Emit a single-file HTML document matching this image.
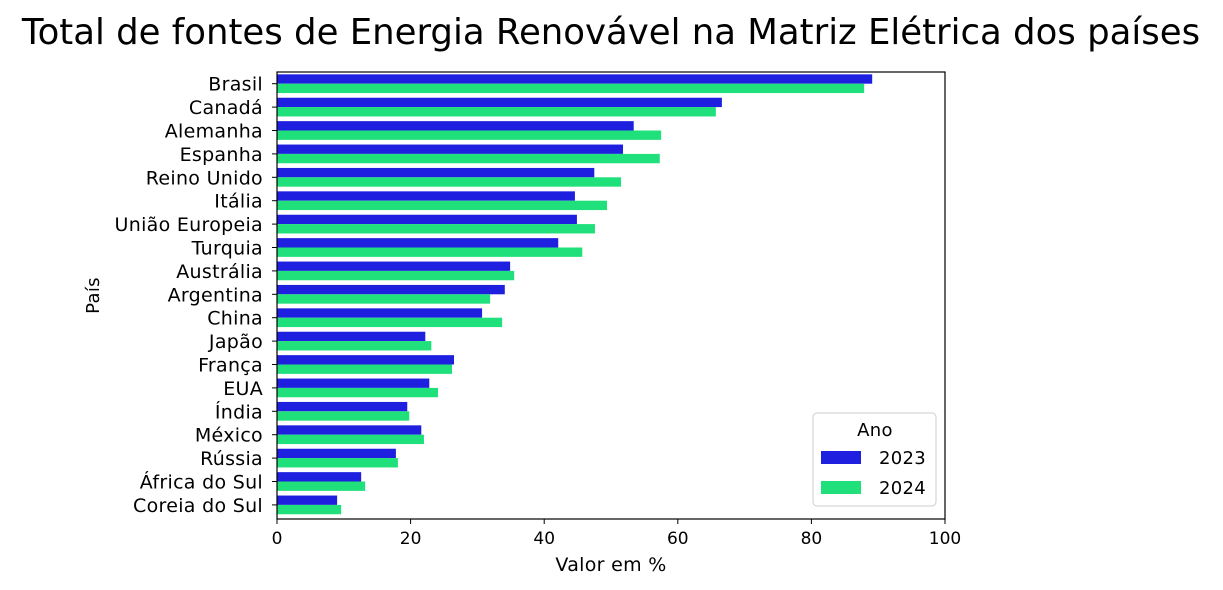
<!DOCTYPE html>
<html><head><meta charset="utf-8"><style>
body{margin:0;background:#fff;}
svg{display:block;font-family:"DejaVu Sans","Liberation Sans",sans-serif;}
.t{letter-spacing:0.3px;}
</style></head><body>
<svg id="chart" width="1223" height="590">
<text x="611" y="44" font-size="35.5" text-anchor="middle">Total de fontes de Energia Renovável na Matriz Elétrica dos países</text>
<g id="bars"></g>
<g id="axes"></g>
</svg>
<script>
const categories=["Brasil","Canadá","Alemanha","Espanha","Reino Unido","Itália","União Europeia","Turquia","Austrália","Argentina","China","Japão","França","EUA","Índia","México","Rússia","África do Sul","Coreia do Sul"];
const values2023=[89.1,66.6,53.4,51.8,47.5,44.6,44.9,42.1,34.9,34.1,30.7,22.2,26.5,22.8,19.5,21.6,17.8,12.6,9.0];
const values2024=[87.9,65.7,57.5,57.3,51.5,49.4,47.6,45.7,35.5,31.9,33.7,23.1,26.2,24.1,19.8,22.0,18.1,13.2,9.6];
const xTicks=[0,20,40,60,80,100];
const seriesNames=["2023","2024"];
const colors=["#1f1fe0","#1fe07a"];
const NS="http://www.w3.org/2000/svg";
const L=277,R=945,T=72,B=519;
const x=v=>L+(v/100)*(R-L);
const band=23.4;
const y=i=>T+i*band;
function mk(tag,attrs,parent){const e=document.createElementNS(NS,tag);for(const k in attrs)e.setAttribute(k,attrs[k]);parent.appendChild(e);return e;}
const bars=document.getElementById('bars'),axes=document.getElementById('axes');
const bw=band*0.4;
[values2023,values2024].forEach((vals,s)=>{
 vals.forEach((v,i)=>{
  const r=mk('rect',{x:x(0),y:y(i)+band*0.1+s*bw,width:x(v)-x(0),height:bw,fill:colors[s]},bars);
  
  
 });
});
const frame=mk('rect',{x:L,y:T,width:R-L,height:B-T,fill:'none',stroke:'#000','stroke-width':1.2},axes);


categories.forEach((c,i)=>{
 const cy=y(i)+band/2;
 mk('line',{x1:L-5,x2:L,y1:cy,y2:cy,stroke:'#000'},axes);
 const t=mk('text',{x:L-14,y:cy+7,'font-size':19,'text-anchor':'end',class:'t'},axes);
 t.textContent=c;
 
 
});
xTicks.forEach(v=>{
 mk('line',{x1:x(v),x2:x(v),y1:B,y2:B+5,stroke:'#000'},axes);
 const t=mk('text',{x:x(v),y:B+25,'font-size':17,'text-anchor':'middle'},axes);
 t.textContent=v;
 
 
});
const xt=mk('text',{x:611,y:571,'font-size':19,'text-anchor':'middle',class:'t'},axes);
xt.textContent='Valor em %';


const yt=mk('text',{x:99,y:(T+B)/2,'font-size':18,'text-anchor':'middle',class:'t',transform:`rotate(-90 99 ${(T+B)/2})`},axes);
yt.textContent='País';


const lg=mk('g',{},axes);


mk('rect',{x:813,y:413,width:123,height:93,rx:4,fill:'#fff',stroke:'#ccc'},lg);
const lt=mk('text',{x:875,y:436,'font-size':18,'text-anchor':'middle',class:'t'},lg);
lt.textContent='Ano';
seriesNames.forEach((n,s)=>{
 const ly=451+s*30;
 const p=mk('rect',{x:821,y:ly,width:40,height:13,fill:colors[s]},lg);
 
 
 const t=mk('text',{x:879,y:ly+13,'font-size':18,class:'t'},lg);
 t.textContent=n;
});
</script>
</body></html>
